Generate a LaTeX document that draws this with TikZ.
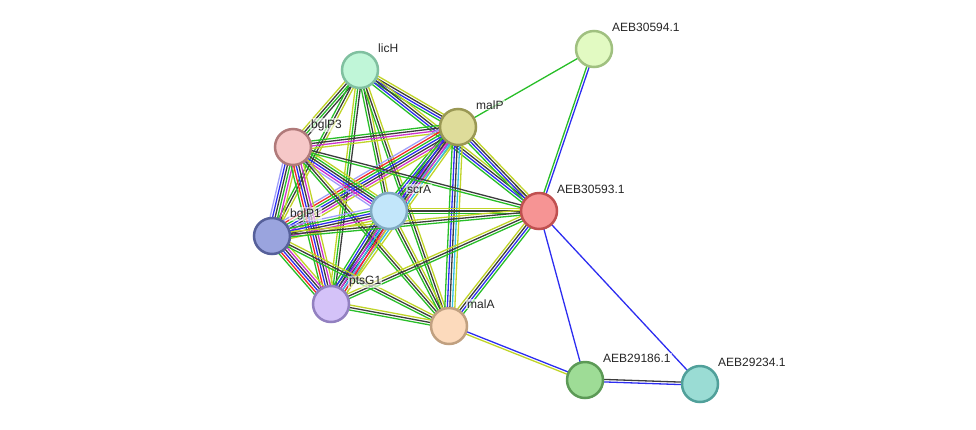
\documentclass[tikz,border=0pt]{standalone}
\usepackage{fontspec}
\setmainfont{Liberation Sans}
\usetikzlibrary{calc,backgrounds}
\definecolor{eG}{RGB}{40,190,40}
\definecolor{eB}{RGB}{45,45,240}
\definecolor{eK}{RGB}{60,60,60}
\definecolor{eY}{RGB}{192,212,40}
\definecolor{eM}{RGB}{205,50,205}
\definecolor{eC}{RGB}{50,190,225}
\definecolor{eR}{RGB}{240,40,40}
\definecolor{eL}{RGB}{160,160,250}
\tikzset{
  prot/.style={circle, minimum size=36pt, inner sep=0pt, line width=2.5pt},
  plabel/.style={anchor=west, font=\fontsize{12}{14}\selectfont, text=black!85, fill=white, fill opacity=0.6, text opacity=1, inner sep=1pt},
  edgeline/.style={line width=1.3pt}
}
\newcommand\sedge[3]{%
  \foreach \ecol [count=\nn] in {#3} {\xdef\ecount{\nn}}%
  \foreach \ecol [count=\ii] in {#3} {%
    \pgfmathsetmacro\eoff{(\ii-(\ecount+1)/2)*2.5}%
    \draw[edgeline,\ecol] ($(#1.center)!\eoff pt!90:(#2.center)$) -- ($(#2.center)!\eoff pt!-90:(#1.center)$);
  }%
}
\begin{document}
\begin{tikzpicture}[x=1pt,y=-1pt]
\useasboundingbox (0,0) rectangle (976,429);
% nodes
\node[prot, fill={rgb,255:red,192;green,246;blue,216}, draw={rgb,255:red,128;green,192;blue,160}] (licH) at (360,70) {};
\node[prot, fill={rgb,255:red,222;green,220;blue,154}, draw={rgb,255:red,154;green,152;blue,84}] (malP) at (458,127) {};
\node[prot, fill={rgb,255:red,246;green,200;blue,200}, draw={rgb,255:red,176;green,122;blue,122}] (bglP3) at (293,147) {};
\node[prot, fill={rgb,255:red,194;green,230;blue,250}, draw={rgb,255:red,128;green,170;blue,194}] (scrA) at (389,211) {};
\node[prot, fill={rgb,255:red,154;green,164;blue,222}, draw={rgb,255:red,86;green,96;blue,154}] (bglP1) at (272,236) {};
\node[prot, fill={rgb,255:red,246;green,148;blue,148}, draw={rgb,255:red,192;green,80;blue,80}] (a593) at (539,211) {};
\node[prot, fill={rgb,255:red,226;green,250;blue,194}, draw={rgb,255:red,160;green,192;blue,128}] (a594) at (594,49) {};
\node[prot, fill={rgb,255:red,212;green,194;blue,248}, draw={rgb,255:red,146;green,128;blue,192}] (ptsG1) at (331,304) {};
\node[prot, fill={rgb,255:red,252;green,218;blue,188}, draw={rgb,255:red,192;green,160;blue,128}] (malA) at (449,326) {};
\node[prot, fill={rgb,255:red,158;green,220;blue,150}, draw={rgb,255:red,92;green,154;blue,86}] (a186) at (585,380) {};
\node[prot, fill={rgb,255:red,154;green,220;blue,212}, draw={rgb,255:red,80;green,160;blue,154}] (a234) at (700,384) {};
% labels
\node[plabel] (licH-l) at (377,48) {licH};
\node[plabel] (malP-l) at (475,105) {malP};
\node[plabel] (bglP3-l) at (310,125) {bglP3};
\node[plabel] (scrA-l) at (406,189) {scrA};
\node[plabel] (bglP1-l) at (289,214) {bglP1};
\node[plabel] (a593-l) at (556,189) {AEB30593.1};
\node[plabel] (a594-l) at (611,27) {AEB30594.1};
\node[plabel] (ptsG1-l) at (348,282) {ptsG1};
\node[plabel] (malA-l) at (466,304) {malA};
\node[plabel] (a186-l) at (602,358) {AEB29186.1};
\node[plabel] (a234-l) at (717,362) {AEB29234.1};
% edges
\begin{pgfonlayer}{background}
\sedge{licH}{malP}{eG,eB,eK,eY}
\sedge{licH}{bglP3}{eY,eK,eG,eK}
\sedge{licH}{bglP1}{eG,eK,eY}
\sedge{licH}{scrA}{eG,eK,eY}
\sedge{licH}{ptsG1}{eY,eG,eK}
\sedge{licH}{malA}{eG,eK,eY}
\sedge{licH}{a593}{eG,eB,eK,eY}
\sedge{malP}{a594}{eG}
\sedge{a594}{a593}{eG,eB}
\sedge{a593}{a186}{eB}
\sedge{a593}{a234}{eB}
\sedge{malA}{a186}{eY,eB}
\sedge{a186}{a234}{eB,eK}
\sedge{malP}{a593}{eG,eB,eK,eY}
\sedge{malP}{bglP3}{eG,eK,eM,eY}
\sedge{malP}{scrA}{eG,eB,eK,eM,eC,eY}
\sedge{malP}{bglP1}{eL,eR,eG,eB,eK,eM,eY}
\sedge{malP}{ptsG1}{eG,eB,eK,eM,eC,eY}
\sedge{malP}{malA}{eG,eB,eK,eC,eY}
\sedge{bglP3}{bglP1}{eL,eB,eK,eG,eM,eY}
\sedge{bglP3}{scrA}{eL,eM,eB,eK,eG,eY}
\sedge{bglP3}{ptsG1}{eG,eR,eB,eK,eM,eY}
\sedge{bglP3}{malA}{eG,eK,eY}
\sedge{bglP3}{a593}{eG,eK}
\sedge{scrA}{bglP1}{eL,eG,eB,eK,eM,eY}
\sedge{scrA}{ptsG1}{eG,eB,eK,eM,eC,eR,eY}
\sedge{scrA}{malA}{eG,eK,eY}
\sedge{scrA}{a593}{eG,eK,eY}
\sedge{bglP1}{ptsG1}{eG,eR,eB,eK,eM,eY}
\sedge{bglP1}{malA}{eG,eK,eY}
\sedge{bglP1}{a593}{eG,eK,eY}
\sedge{ptsG1}{malA}{eG,eK,eY}
\sedge{ptsG1}{a593}{eG,eK,eY}
\sedge{malA}{a593}{eG,eB,eK,eY}
\end{pgfonlayer}
\end{tikzpicture}
\end{document}
